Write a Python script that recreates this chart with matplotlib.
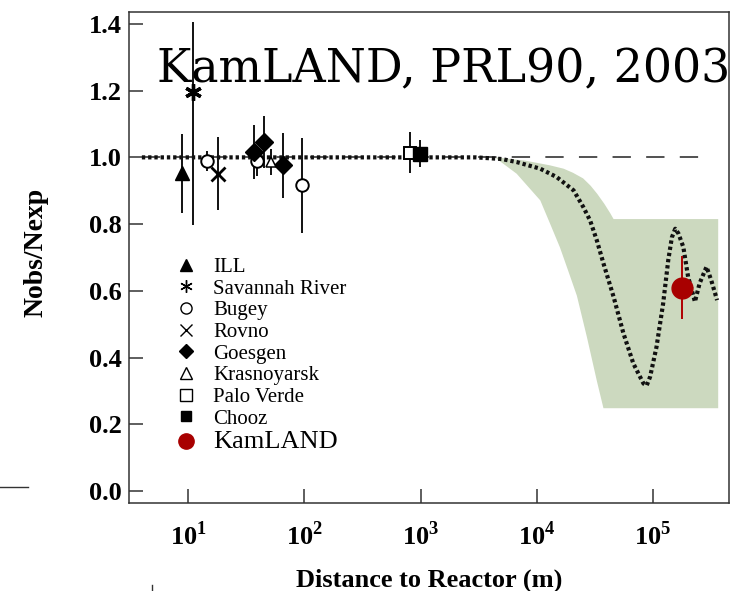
import numpy as np
import matplotlib
matplotlib.use('Agg')
import matplotlib.pyplot as plt
from matplotlib.lines import Line2D

plt.rcParams['font.family'] = ['Liberation Serif', 'DejaVu Serif']
plt.rcParams['mathtext.fontset'] = 'custom'
plt.rcParams['mathtext.rm'] = 'Liberation Serif'
plt.rcParams['mathtext.bf'] = 'Liberation Serif:bold'

# reactor experiments: distance (m), Nobs/Nexp, error
ill_L, ill_r, ill_e = [8.8], [0.952], [0.118]
sav_L, sav_r = [11.1], [1.195]
sav_lo, sav_hi = [0.399], [0.212]
bugey_L = [14.5, 39.0, 96.0]
bugey_r = [0.988, 0.988, 0.916]
bugey_e = [0.030, 0.045, 0.142]
rovno_L, rovno_r, rovno_e = [17.9], [0.951], [0.110]
goes_L = [37.0, 45.0, 65.0]
goes_r = [1.016, 1.046, 0.976]
goes_e = [0.080, 0.077, 0.097]
kras_L, kras_r, kras_e = [52.0], [0.986], [0.040]
pv_L, pv_r, pv_e = [813.0], [1.014], [0.062]
chooz_L, chooz_r, chooz_e = [990.0], [1.011], [0.040]
kam_L, kam_r, kam_e = [1.77e5], [0.609], [0.094]

# expected ratio with oscillation (dotted curve)
curve_L = [4, 1000, 3000, 5000, 6700, 10700, 14800, 20700, 25100, 28700,
           32800, 37400, 45700, 55600, 67600, 82600, 88000, 94200, 107000,
           122000, 135000, 145000, 155000, 165000, 182000, 200000, 229000,
           251000, 288000, 316000, 355000]
curve_r = [1.0, 1.0, 1.0, 0.995, 0.986, 0.966, 0.941, 0.901, 0.851, 0.811,
           0.751, 0.682, 0.582, 0.472, 0.382, 0.322, 0.316, 0.342, 0.432,
           0.562, 0.692, 0.760, 0.786, 0.772, 0.731, 0.642, 0.567,
           0.622, 0.672, 0.632, 0.572]

# allowed region band
band_up_L = [4500, 8000, 13000, 17000, 20400, 25000, 29000, 33000, 38000,
             42700, 45700, 363000]
band_up_r = [1.0, 0.99, 0.976, 0.966, 0.954, 0.937, 0.915, 0.891, 0.861,
             0.833, 0.815, 0.815]
band_lo_L = [4500, 6700, 10700, 13000, 15800, 18600, 22100, 27000, 32800,
             37400, 363000]
band_lo_r = [0.996, 0.951, 0.871, 0.801, 0.730, 0.660, 0.585, 0.460, 0.330,
             0.248, 0.248]

fig = plt.figure(figsize=(7.33, 5.91), dpi=100)
ax = fig.add_axes([0.176, 0.149, 0.8186, 0.8308])
ax.set_xscale('log')
ax.set_xlim(3.1, 4.5e5)
ax.set_ylim(-0.036, 1.436)

ax.fill(band_up_L + band_lo_L[::-1], band_up_r + band_lo_r[::-1],
        color='#ccd9bf', lw=0, zorder=1)
ax.plot([4, 3.1e5], [1.0, 1.0], color='#222222', lw=1.1,
        dashes=(12, 10), zorder=2)
ax.plot(curve_L, curve_r, color='#111111', lw=3.0, dashes=(0.8, 0.7),
        zorder=3)

eb = dict(fmt='none', ecolor='#111111', elinewidth=1.4, capsize=0, zorder=4)
ax.errorbar(ill_L, ill_r, yerr=ill_e, **eb)
ax.errorbar(sav_L, sav_r, yerr=[sav_lo, sav_hi], **eb)
ax.errorbar(bugey_L, bugey_r, yerr=bugey_e, **eb)
ax.errorbar(rovno_L, rovno_r, yerr=rovno_e, **eb)
ax.errorbar(goes_L, goes_r, yerr=goes_e, **eb)
ax.errorbar(kras_L, kras_r, yerr=kras_e, **eb)
ax.errorbar(pv_L, pv_r, yerr=pv_e, **eb)
ax.errorbar(chooz_L, chooz_r, yerr=chooz_e, **eb)
ax.errorbar(kam_L, kam_r, yerr=kam_e, fmt='none', ecolor='#b00000',
            elinewidth=1.4, capsize=0, zorder=4)

mk = dict(linestyle='none', color='black', zorder=5)
ax.plot(ill_L, ill_r, marker='^', ms=10, **mk)
ax.plot(sav_L, sav_r, marker=(6, 2, 0), ms=12, mew=2.4, **mk)
ax.plot(bugey_L, bugey_r, marker='o', ms=9, mfc='white', mew=1.4, **mk)
ax.plot(rovno_L, rovno_r, marker='x', ms=10, mew=2.0, **mk)
ax.plot(goes_L, goes_r, marker='D', ms=9, **mk)
ax.plot(kras_L, kras_r, marker='^', ms=7, mfc='white', mew=1.1, **mk)
ax.plot(pv_L, pv_r, marker='s', ms=9, mfc='white', mew=1.4, **mk)
ax.plot(chooz_L, chooz_r, marker='s', ms=10.5, **mk)
ax.plot(kam_L, kam_r, marker='o', ms=15, color='#a80000', linestyle='none',
        zorder=6)

# axes styling
for sp in ax.spines.values():
    sp.set_color('#333333')
    sp.set_linewidth(1.1)
ax.minorticks_off()
ax.set_xticks([1e1, 1e2, 1e3, 1e4, 1e5])
ax.set_xticklabels([r'$\mathbf{10}^{\mathbf{%d}}$' % k for k in range(1, 6)])
ax.set_yticks(np.arange(0, 1.41, 0.2))
ax.set_yticklabels(['%.1f' % v for v in np.arange(0, 1.41, 0.2)],
                   fontweight='bold')
ax.tick_params(axis='both', direction='in', length=10, width=1.1,
               color='#333333', labelsize=19)
ax.tick_params(axis='x', pad=13)
ax.tick_params(axis='y', pad=5)

ax.set_xlabel('Distance to Reactor (m)', fontsize=19, fontweight='bold')
ax.xaxis.set_label_coords(0.5, -0.134)
ax.set_ylabel('Nobs/Nexp', fontsize=20, fontweight='bold')
ax.yaxis.set_label_coords(-0.135, 0.51)

ax.text(0.0467, 0.857, 'KamLAND, PRL90, 2003', transform=ax.transAxes,
        fontsize=33, family='DejaVu Serif', va='baseline', ha='left',
        clip_on=False, zorder=7)

# legend
names = ['ILL', 'Savannah River', 'Bugey', 'Rovno', 'Goesgen',
         'Krasnoyarsk', 'Palo Verde', 'Chooz', 'KamLAND']
handles = [
    Line2D([], [], ls='none', marker='^', ms=8, color='black'),
    Line2D([], [], ls='none', marker=(6, 2, 0), ms=9, mew=1.0, color='black'),
    Line2D([], [], ls='none', marker='o', ms=8, mfc='white', mew=1.0,
           color='black'),
    Line2D([], [], ls='none', marker='x', ms=8, mew=1.0, color='black'),
    Line2D([], [], ls='none', marker='D', ms=7, color='black'),
    Line2D([], [], ls='none', marker='^', ms=8, mfc='white', mew=1.0,
           color='black'),
    Line2D([], [], ls='none', marker='s', ms=8, mfc='white', mew=1.0,
           color='black'),
    Line2D([], [], ls='none', marker='s', ms=7, color='black'),
    Line2D([], [], ls='none', marker='o', ms=11, color='#a80000'),
]
leg = ax.legend(handles, names, loc='upper left',
                bbox_to_anchor=(0.078, 0.4998), frameon=False, fontsize=15,
                handlelength=1.0, handletextpad=0.8, labelspacing=0.1,
                borderpad=0, borderaxespad=0)
leg.get_texts()[-1].set_fontsize(19)

# stray marks along the bottom-left edge
fig.add_artist(Line2D([0, 28 / 733], [1 - 487 / 591, 1 - 487 / 591],
                      color='#333333', lw=1.0))
fig.add_artist(Line2D([152 / 733, 152 / 733], [0, 1 - 585 / 591],
                      color='#333333', lw=1.0))

fig.savefig('out.png', dpi=100)
